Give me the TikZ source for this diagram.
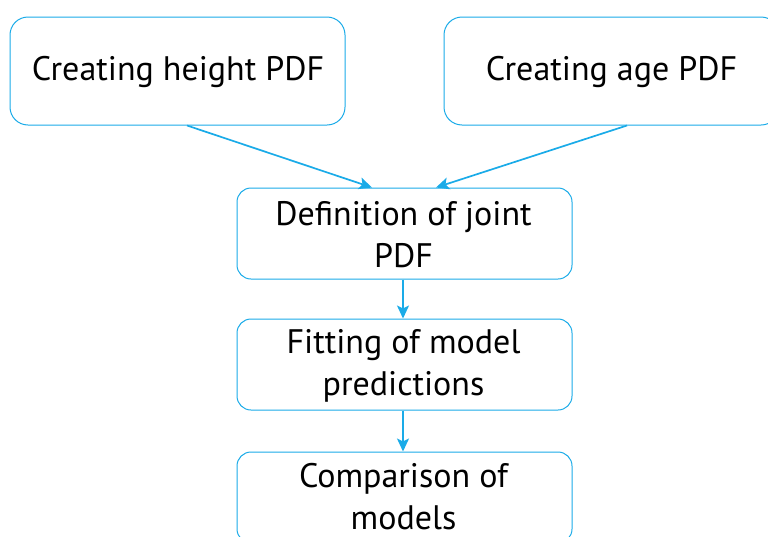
\documentclass[tikz,border=0pt]{standalone}
\usepackage{fontspec}
\setmainfont{PT Sans}
\usetikzlibrary{arrows.meta,calc}
\definecolor{cy}{HTML}{1AABE8}
\begin{document}
\begin{tikzpicture}[x=1pt,y=-1pt,
  bigbox/.style={draw=cy, line width=1pt, rounded corners=18pt, minimum width=335pt, minimum height=108pt, inner sep=0pt},
  smallbox/.style={draw=cy, line width=1pt, rounded corners=14pt, minimum width=335pt, minimum height=91pt, inner sep=0pt},
  txt/.style={anchor=base, font=\fontsize{34}{41}\selectfont, inner sep=0pt, text=black},
  arr/.style={draw=cy, line width=1.7pt, -{Stealth[length=13pt,width=12pt,inset=3pt]}}]
\clip (0,0) rectangle (768,536);
\node[bigbox] (b1) at (177.5,71) {};
\node[bigbox] (b2) at (611.5,71) {};
\node[smallbox] (b3) at (404.5,233.5) {};
\node[smallbox] (b4) at (404.5,364.5) {};
\node[smallbox] (b5) at (404.5,497.5) {};
\node[txt] (t1) at (178,80) {Creating height PDF};
\node[txt] (t2) at (611.5,80) {Creating age PDF};
\node[txt] (t3a) at (403.5,225) {Definition of joint};
\node[txt] (t3b) at (403.5,267) {PDF};
\node[txt] (t4a) at (403.5,353) {Fitting of model};
\node[txt] (t4b) at (403.5,395) {predictions};
\node[txt] (t5a) at (403.5,487) {Comparison of};
\node[txt] (t5b) at (403.5,529) {models};
\draw[arr] ([xshift=9.5]b1.south) -- ([xshift=-32.5]b3.north);
\draw[arr] ([xshift=15.5]b2.south) -- ([xshift=31.5]b3.north);
\draw[arr] ([xshift=-1.5]b3.south) -- ([xshift=-1.5]b4.north);
\draw[arr] ([xshift=-1.5]b4.south) -- ([xshift=-1.5]b5.north);
\end{tikzpicture}
\end{document}
